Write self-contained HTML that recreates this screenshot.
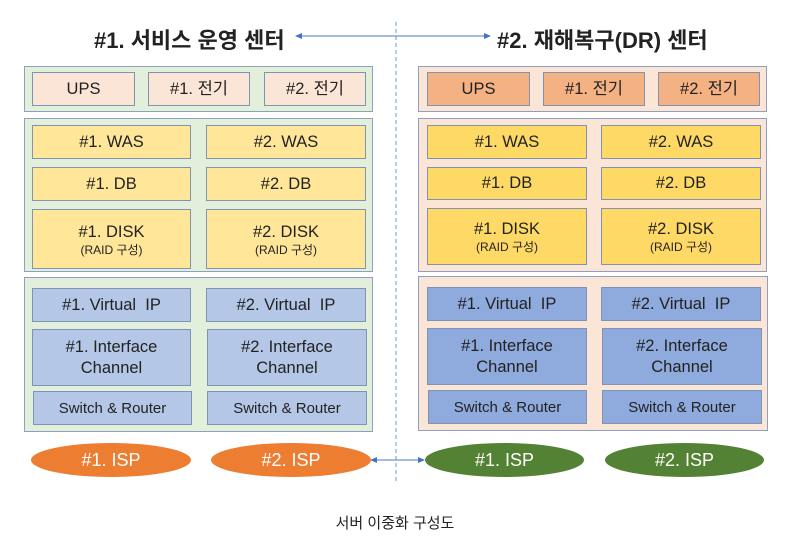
<!DOCTYPE html>
<html><head><meta charset="utf-8"><style>
body{margin:0;width:790px;height:545px;background:#fff;position:relative;overflow:hidden;font-family:"Liberation Sans","Noto Sans CJK KR",sans-serif;color:#222}
.b{position:absolute;box-sizing:border-box;border:1.5px solid #7f93b5;display:flex;align-items:center;justify-content:center;text-align:center;font-size:16.5px;line-height:21px}
.p{position:absolute;box-sizing:border-box;border:1.5px solid #8ea0c0}
.e{position:absolute;border-radius:50%;display:flex;align-items:center;justify-content:center;color:#fff;font-size:18px}
.t{position:absolute;font-weight:bold;font-size:22px;white-space:nowrap}
small{font-size:12px;line-height:14px}
</style></head><body>
<div class="t" style="left:94px;top:23px">#1. 서비스 운영 센터</div>
<div class="t" style="left:497px;top:23px">#2. 재해복구(DR) 센터</div>
<svg style="position:absolute;left:0;top:0" width="790" height="545">
<line x1="396" y1="22" x2="396" y2="482" stroke="#6f95d0" stroke-width="1" stroke-dasharray="4,3"/>
<line x1="298" y1="36" x2="488" y2="36" stroke="#6f95d0" stroke-width="1.3"/>
<polygon points="295,36 302,33 302,39" fill="#4472c4"/>
<polygon points="491,36 484,33 484,39" fill="#4472c4"/>
<line x1="373" y1="460" x2="422" y2="460" stroke="#6f95d0" stroke-width="1.3"/>
<polygon points="370,460 377,457 377,463" fill="#4472c4"/>
<polygon points="425,460 418,457 418,463" fill="#4472c4"/>
</svg>

<div class="p" style="left:24px;top:66px;width:349px;height:46px;background:#e2efda"></div>
<div class="b" style="left:32px;top:72px;width:103px;height:34px;background:#fbe5d6">UPS</div>
<div class="b" style="left:148px;top:72px;width:102px;height:34px;background:#fbe5d6">#1. 전기</div>
<div class="b" style="left:264px;top:72px;width:102px;height:34px;background:#fbe5d6">#2. 전기</div>
<div class="p" style="left:24px;top:118px;width:349px;height:154px;background:#e2efda"></div>
<div class="b" style="left:32px;top:125px;width:159px;height:34px;background:#ffe699">#1. WAS</div>
<div class="b" style="left:206px;top:125px;width:160px;height:34px;background:#ffe699">#2. WAS</div>
<div class="b" style="left:32px;top:167px;width:159px;height:34px;background:#ffe699">#1. DB</div>
<div class="b" style="left:206px;top:167px;width:160px;height:34px;background:#ffe699">#2. DB</div>
<div class="b" style="left:32px;top:209px;width:159px;height:60px;background:#ffe699;flex-direction:column">#1. DISK<small>(RAID 구성)</small></div>
<div class="b" style="left:206px;top:209px;width:160px;height:60px;background:#ffe699;flex-direction:column">#2. DISK<small>(RAID 구성)</small></div>
<div class="p" style="left:24px;top:277px;width:349px;height:155px;background:#e2efda"></div>
<div class="b" style="left:32px;top:288px;width:159px;height:34px;background:#b4c7e7">#1. Virtual&nbsp; IP</div>
<div class="b" style="left:206px;top:288px;width:160px;height:34px;background:#b4c7e7">#2. Virtual&nbsp; IP</div>
<div class="b" style="left:32px;top:329px;width:159px;height:57px;background:#b4c7e7">#1. Interface<br>Channel</div>
<div class="b" style="left:207px;top:329px;width:160px;height:57px;background:#b4c7e7">#2. Interface<br>Channel</div>
<div class="b" style="left:33px;top:391px;width:159px;height:34px;background:#b4c7e7;font-size:15px">Switch &amp; Router</div>
<div class="b" style="left:207px;top:391px;width:160px;height:34px;background:#b4c7e7;font-size:15px">Switch &amp; Router</div>

<div class="p" style="left:418px;top:66px;width:349px;height:46px;background:#fbe5d6"></div>
<div class="b" style="left:427px;top:72px;width:103px;height:34px;background:#f4b183">UPS</div>
<div class="b" style="left:543px;top:72px;width:102px;height:34px;background:#f4b183">#1. 전기</div>
<div class="b" style="left:658px;top:72px;width:102px;height:34px;background:#f4b183">#2. 전기</div>
<div class="p" style="left:418px;top:118px;width:349px;height:154px;background:#fbe5d6"></div>
<div class="b" style="left:427px;top:125px;width:160px;height:34px;background:#ffd966">#1. WAS</div>
<div class="b" style="left:601px;top:125px;width:160px;height:34px;background:#ffd966">#2. WAS</div>
<div class="b" style="left:427px;top:167px;width:160px;height:33px;background:#ffd966">#1. DB</div>
<div class="b" style="left:601px;top:167px;width:160px;height:33px;background:#ffd966">#2. DB</div>
<div class="b" style="left:427px;top:208px;width:160px;height:57px;background:#ffd966;flex-direction:column">#1. DISK<small>(RAID 구성)</small></div>
<div class="b" style="left:601px;top:208px;width:160px;height:57px;background:#ffd966;flex-direction:column">#2. DISK<small>(RAID 구성)</small></div>
<div class="p" style="left:418px;top:276px;width:350px;height:155px;background:#fbe5d6"></div>
<div class="b" style="left:427px;top:287px;width:160px;height:34px;background:#8faadc">#1. Virtual&nbsp; IP</div>
<div class="b" style="left:601px;top:287px;width:160px;height:34px;background:#8faadc">#2. Virtual&nbsp; IP</div>
<div class="b" style="left:427px;top:328px;width:160px;height:57px;background:#8faadc">#1. Interface<br>Channel</div>
<div class="b" style="left:602px;top:328px;width:160px;height:57px;background:#8faadc">#2. Interface<br>Channel</div>
<div class="b" style="left:428px;top:390px;width:159px;height:34px;background:#8faadc;font-size:15px">Switch &amp; Router</div>
<div class="b" style="left:602px;top:390px;width:160px;height:34px;background:#8faadc;font-size:15px">Switch &amp; Router</div>

<div class="e" style="left:31px;top:443px;width:160px;height:34px;background:#ed7d31">#1. ISP</div>
<div class="e" style="left:211px;top:443px;width:160px;height:34px;background:#ed7d31">#2. ISP</div>
<div class="e" style="left:425px;top:443px;width:159px;height:34px;background:#548235">#1. ISP</div>
<div class="e" style="left:605px;top:443px;width:159px;height:34px;background:#548235">#2. ISP</div>

<div style="position:absolute;left:0;width:790px;top:512px;text-align:center;font-size:15px">서버 이중화 구성도</div>
</body></html>
